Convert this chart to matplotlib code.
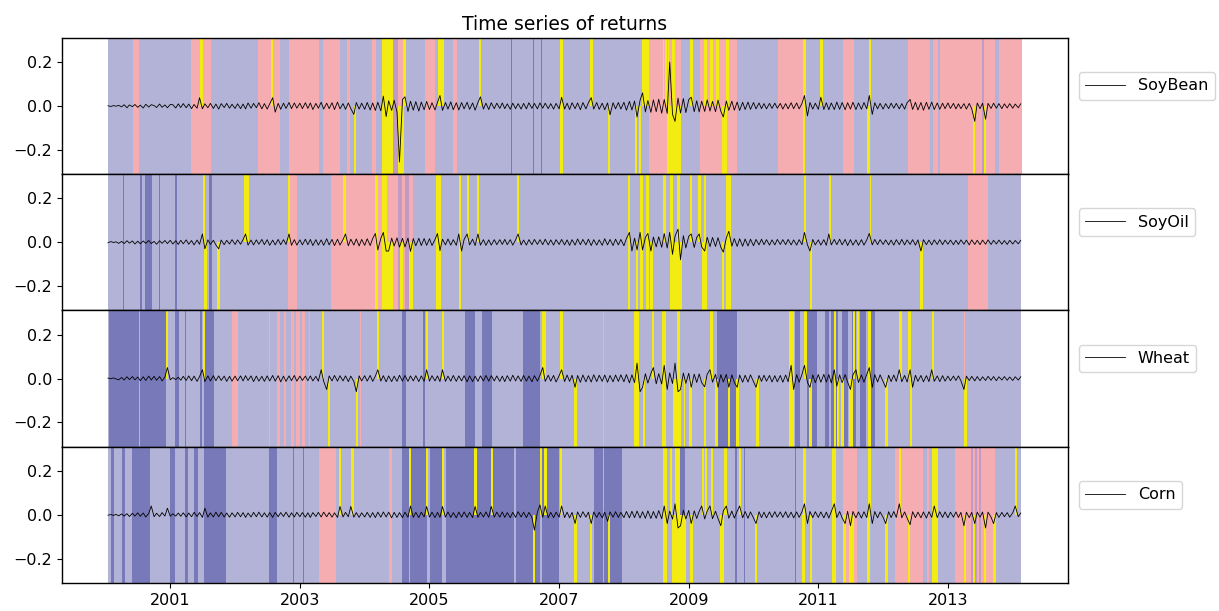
import numpy as np
import pandas as pd
import matplotlib
matplotlib.use("Agg")
import matplotlib.pyplot as plt

plt.rcParams.update({
    "font.family": "DejaVu Sans",
    "axes.linewidth": 1.0,
    "xtick.labelsize": 11.5,
    "ytick.labelsize": 11.5,
})

# ------------------------------------------------------------------
# data: semi-monthly sampled returns (units of 0.001), read off the chart
# ------------------------------------------------------------------
names = ["SoyBean", "SoyOil", "Wheat", "Corn"]
start_date = "2000-01-15"

soybean = [
    1, -2, 2, -1, 3, -4, 6, -8, 5, -3, 7, -6, 4, -9, 8, -5, 6, 2, -7, 9, -6, 5, -8, 7,
    6, -9, 10, -7, 11, -8, 9, -12, 7, -10, 38, -13, 10, -8, 12, -11, 9, -14, 11, -7, 12, -10, 8, -11,
    10, -12, 9, -13, 14, -10, 12, -8, 15, -13, 11, -14, 10, 38, -28, 12, -15, 13, -11, 16, -12, 14, -10, 13,
    -12, 15, -11, 14, -16, 12, -10, 17, -14, 13, -12, 15, -16, 18, -13, 11, -15, 14, -12, -38, 16, -14, 13, -15,
    16, -18, 14, -20, 17, -22, 45, -48, 24, -20, 26, -28, -255, 30, 42, -25, 22, -19, 20, -23, 18, -17, 21, -16,
    15, -18, 17, 48, -20, 16, -14, 19, -17, 15, -18, 16, -13, 17, -15, 14, -19, 16, 42, -14, 13, -16, 15, -12,
    13, -11, 14, -12, 10, -15, 13, -12, 11, -14, 12, -13, 15, -11, 12, -13, 14, -10, 13, -12, 11, -14, 12, -13,
    40, -14, 13, -16, 15, -12, 14, -17, 16, -13, 15, 38, -14, 16, -15, 13, -17, 14, -40, 15, -13, 16, -14, 17,
    -19, 21, -18, 23, -50, 26, 60, -27, 25, -29, 28, -26, 31, -33, 30, -34, 200, -38, -70, 36, -32, 34, -30, 29,
    40, -26, 24, -27, 22, -25, 28, -23, 21, -26, 27, -24, -50, 23, -20, 22, -19, 18, -20, 17, -16, 18, -15, 16,
    -13, 14, -12, 11, -13, 12, -11, 13, -10, 12, -14, 11, -13, 15, -12, 14, -13, 12, 48, -45, 16, -14, 13, -15,
    40, -16, 15, -17, 14, -16, 18, -15, 16, -17, 15, -14, 17, -16, 14, -15, 16, -13, 48, -38, 15, -13, 12, -14,
    11, -12, 13, -10, 12, -13, 11, -14, 15, 30, -16, 17, -18, 16, -19, 17, -15, 18, -16, 14, -15, 13, -12, 14,
    -11, 12, -13, 10, -12, 11, -14, 12, -13, -70, 14, -12, 13, -60, 12, -11, 13, -10, 11, -12, 10, -9, 11, -10,
    9, -8, 10,
]

soyoil = [
    -2, 3, -1, 2, -5, 4, -6, 7, -4, 6, -8, 5, -7, 6, -5, 8, -6, 4, -9, 7, -5, 8, -6, 9,
    -8, 7, -10, 9, -7, 11, -9, 8, -12, 10, -9, 38, -30, 11, -10, 9, -12, -30, 10, -11, 9, -8, 12, -10,
    11, -9, 12, 38, -13, 10, -12, 11, -9, 13, -11, 12, -14, 10, -12, 13, -11, 12, -10, 38, -14, 12, -13, 11,
    -12, 14, -11, 13, -15, 12, -13, 11, -14, 16, -12, 13, -15, 14, -13, 12, 38, -16, 14, -13, 15, -17, 13, -14,
    16, -15, 17, 40, -35, 18, 45, -40, -40, 19, -17, 20, -22, 18, -21, 19, -42, 17, -16, 18, -15, 17, -14, 16,
    -15, 13, 40, -38, 14, -12, 15, -13, 12, -14, 38, -40, 13, 38, -12, 14, -15, 38, -13, 12, -14, 11, -13, 12,
    -11, 12, -10, 13, -11, 12, -13, 11, 38, -12, 10, -13, 12, -11, 13, -10, 12, -11, 14, -12, 11, -13, 12, -10,
    13, -12, 11, -14, 12, -13, 15, -11, 13, -12, 14, -15, 12, -13, 11, -14, 16, -12, 13, -15, 14, -12, 13, -16,
    17, 45, -40, 19, -35, 45, -35, 22, 40, -40, 24, -21, 25, -23, 40, -26, 45, -55, 28, 60, -80, 30, -26, 27,
    38, -24, 22, 38, -21, -40, 23, -20, 22, -19, 21, -23, -45, 20, 50, -18, 17, -19, 16, -18, 15, -17, 14, -16,
    13, -12, 14, -11, 12, -13, 11, -12, 13, -10, 12, -11, 13, -12, 11, -13, 12, -11, 45, -12, -40, 13, -12, 11,
    -13, 12, -14, 38, -12, 13, -11, 14, -12, 13, -15, 12, -13, 11, -14, 12, -13, 11, 40, -12, 13, -11, 12, -10,
    11, -12, 10, -13, 12, -11, 13, -12, 11, -10, 12, -13, 11, -40, 12, -11, 10, -12, 11, -10, 12, -11, 10, -9,
    10, -11, 9, -10, 11, -9, 10, -12, 11, -10, 9, -11, 10, -9, 11, -10, 9, -8, 10, -9, 8, -10, 9, -8,
    8, -7, 9,
]

wheat = [
    2, -1, 3, -2, -6, 5, -7, 8, -5, 9, -6, 7, -10, 8, -9, 11, -7, 10, -8, 9, -11, 7, 50, -6,
    4, -5, 6, -8, 10, -9, 12, -10, 11, -13, 9, 40, -14, 12, -11, 13, -10, 12, -9, 11, -13, 10, -12, 11,
    -10, 12, -11, 13, -9, 12, -14, 11, -12, 10, -13, 12, -11, 14, -12, 13, -15, 11, -13, 12, -10, 14, -12, 11,
    -9, 11, -10, 12, -11, 10, -12, 40, -13, -50, 12, -11, 14, -12, 13, -11, 12, -14, 11, -13, -60, 12, -11, 13,
    -12, 14, -13, 11, 40, -12, 13, -15, 12, -14, 11, -13, 15, -12, 14, -13, 12, -11, 13, -14, 12, -13, 40, -12,
    13, -11, 12, -14, 40, -13, 11, -12, 14, -13, 12, -11, 13, -15, 12, -14, 11, -13, 12, -11, 14, -12, 13, -11,
    12, -13, 11, -14, 13, -12, 15, -11, 12, -13, 14, -12, 11, -15, 13, -12, 14, 50, -13, 15, -12, 14, -16, 13,
    40, -14, 16, -13, 15, -40, 14, -17, 16, -15, 13, -16, 17, -14, 15, -13, 16, -17, 14, -15, 16, -13, 17, -15,
    18, -20, 17, -19, 70, -60, -40, 22, -21, 23, 50, -24, 22, -25, 60, -50, 26, -23, 70, -60, -50, 25, -22, 24,
    -40, 20, -18, 21, -19, -38, 20, 40, -17, 19, -40, 18, -16, 19, -40, 17, -18, -40, 16, -17, 15, -16, 17, -14,
    -40, 14, -13, 15, -12, 14, -16, 13, -15, 14, -17, 16, -15, 60, -50, 18, -17, 19, 60, -18, -40, 17, -19, 18,
    -17, 19, -16, 18, -20, 40, -35, 17, -19, 18, -16, -50, 17, 40, -18, 16, -17, 19, 50, -40, 18, -16, 17, -15,
    -40, 15, -14, 16, -13, 40, -15, 14, -16, 40, -40, 15, -13, 14, -15, 13, -14, 40, -13, 12, -14, 13, -12, 11,
    -10, 11, -9, 12, -10, -50, 11, -9, 10, -11, 9, -10, 8, -9, 10, -8, 9, -10, 8, -7, 9, -8, 7, -9,
    8, -7, 8,
]

corn = [
    -2, 1, -3, 2, -5, 4, -6, 5, -8, 7, -6, 9, -7, 8, -10, 6, 40, -9, 7, -8, 10, -6, 30, -7,
    5, -6, 8, -7, 9, -10, 8, -9, 11, -8, 10, -12, 30, -11, 9, -10, 12, -9, 11, -10, 8, -11, 9, -10,
    11, -9, 10, -12, 8, -10, 11, -9, 12, -10, 9, -11, 10, -12, 11, -9, 10, -8, 12, -11, 9, -10, 11, -9,
    10, -11, 9, -12, 10, -8, 11, -10, 12, -9, 10, -11, 9, -12, 38, -10, 11, -9, 38, -11, 10, -12, 9, -10,
    11, -12, 10, -13, 12, -11, 13, -10, 12, -14, 11, -12, 10, -13, 12, -11, 40, -12, 11, -13, 12, -10, 38, -11,
    12, -13, 11, -12, 38, -11, 13, -12, 10, -14, 12, -11, 13, -12, 11, -13, 38, -12, 11, -10, 13, -12, 38, -11,
    12, -11, 13, -12, 10, -13, 11, -12, 14, -10, 12, -13, 11, -12, -70, 13, 45, -12, 40, -14, 11, -13, 12, -11,
    40, -13, 12, -14, 11, -40, 13, -12, 14, -11, 12, -40, 13, -12, 11, -14, 12, -30, 13, -11, 14, -12, 11, -13,
    15, -14, 16, -13, 17, -15, 14, -16, 18, -17, 15, -16, 19, -18, 40, -40, 17, -20, 50, -60, -50, 21, -19, 20,
    -40, 18, -17, 16, 40, -19, 17, 40, -18, 16, -17, -50, 18, 40, -16, 17, -15, 16, 40, -14, 15, -16, 13, -15,
    -40, 14, -13, 12, -14, 13, -12, 14, -11, 13, -12, 14, -13, 12, -14, 13, -12, 14, 50, -40, 15, -13, 14, -12,
    13, -14, 12, -15, 14, 50, -13, 15, -14, -40, 16, -50, 15, -14, 13, -15, 14, -13, 50, -40, 15, -14, 13, -12,
    -40, 14, -13, 15, -12, 50, -14, 13, -15, -45, 14, -13, 12, -14, 13, -15, 14, -12, 40, -13, 14, -12, 13, -14,
    12, -11, 13, -12, 11, -50, 12, -13, 11, -40, 12, -11, 13, -60, 12, -11, -40, 10, -12, 11, -9, 10, -11, 9,
    40, -9, 8,
]

# regime spans in decimal years
pink_spans = {
    "SoyBean": [(2000.43, 2000.52), (2001.32, 2001.63), (2002.36, 2002.69), (2002.83, 2003.29),
                (2003.36, 2003.62), (2003.73, 2003.78), (2004.12, 2004.18), (2004.44, 2004.60),
                (2004.93, 2005.09), (2005.37, 2005.42), (2008.38, 2008.88), (2009.18, 2009.74),
                (2010.38, 2010.77), (2011.38, 2011.55), (2012.39, 2012.72), (2012.77, 2012.85),
                (2012.88, 2013.72), (2013.79, 2014.15)],
    "SoyOil": [(2002.82, 2002.95), (2003.48, 2004.74), (2013.31, 2013.62)],
    "Wheat": [(2001.95, 2002.04), (2002.52, 2002.54), (2002.65, 2002.69), (2002.75, 2002.79),
              (2002.87, 2002.91), (2002.94, 2003.00), (2003.04, 2003.08), (2003.14, 2003.16),
              (2003.93, 2003.95), (2007.68, 2007.69), (2013.24, 2013.26)],
    "Corn": [(2003.30, 2003.55), (2004.37, 2004.42), (2011.38, 2011.59), (2012.18, 2012.62),
             (2012.67, 2012.70), (2013.11, 2013.73)],
}

dark_spans = {
    "SoyBean": [(2006.26, 2006.28), (2006.59, 2006.61), (2006.72, 2006.74)],
    "SoyOil": [(2000.27, 2000.29), (2000.53, 2000.56), (2000.61, 2000.72), (2000.82, 2000.84),
               (2001.08, 2001.10), (2001.59, 2001.64)],
    "Wheat": [(2000.05, 2000.51), (2000.54, 2000.94), (2001.08, 2001.13), (2001.23, 2001.25),
              (2001.46, 2001.49), (2001.52, 2001.67), (2004.58, 2004.64), (2004.90, 2004.93),
              (2005.55, 2005.70), (2005.81, 2005.96), (2006.45, 2006.71), (2009.43, 2009.74),
              (2010.64, 2010.71), (2010.82, 2010.98), (2011.10, 2011.16), (2011.20, 2011.30),
              (2011.36, 2011.45), (2011.52, 2011.58), (2011.64, 2011.74), (2011.80, 2011.87)],
    "Corn": [(2000.08, 2000.13), (2000.25, 2000.30), (2000.41, 2000.69), (2001.00, 2001.08),
             (2001.23, 2001.28), (2001.36, 2001.43), (2001.52, 2001.86), (2002.52, 2002.65),
             (2002.90, 2002.91), (2003.05, 2003.06), (2004.57, 2004.68), (2004.70, 2004.96),
             (2005.01, 2005.19), (2005.25, 2006.30), (2006.34, 2006.71), (2006.73, 2007.00),
             (2007.54, 2007.67), (2007.70, 2007.97), (2008.87, 2008.94), (2009.71, 2009.74),
             (2009.86, 2009.87), (2010.59, 2010.60), (2010.64, 2010.65)],
}

mix_spans = {
    "SoyBean": [(2004.44, 2004.52), (2013.52, 2013.56)],
    "SoyOil": [(2004.52, 2004.58), (2004.62, 2004.68)],
    "Wheat": [],
    "Corn": [(2013.35, 2013.38), (2013.41, 2013.45), (2013.48, 2013.51)],
}

# yellow spans: (start, end, part) with part u = above zero, d = below, b = both
yellow_spans = {
    "SoyBean": [(2001.46, 2001.50, "u"), (2002.56, 2002.59, "u"), (2003.83, 2003.86, "d"),
                (2004.26, 2004.44, "b"), (2004.52, 2004.60, "d"), (2004.59, 2004.64, "u"),
                (2005.13, 2005.22, "u"), (2005.77, 2005.80, "u"), (2007.02, 2007.06, "b"),
                (2007.48, 2007.53, "u"), (2007.75, 2007.79, "d"), (2008.17, 2008.20, "d"),
                (2008.23, 2008.26, "d"), (2008.28, 2008.38, "u"), (2008.60, 2008.62, "u"),
                (2008.64, 2008.66, "u"), (2008.68, 2008.70, "u"), (2008.74, 2008.79, "u"),
                (2008.66, 2008.88, "d"), (2009.02, 2009.06, "u"), (2009.24, 2009.28, "u"),
                (2009.33, 2009.37, "u"), (2009.42, 2009.46, "u"), (2009.57, 2009.62, "u"),
                (2009.52, 2009.59, "d"), (2010.77, 2010.81, "u"), (2010.76, 2010.80, "d"),
                (2011.03, 2011.07, "u"), (2011.78, 2011.82, "u"), (2011.75, 2011.79, "d"),
                (2013.38, 2013.42, "d"), (2013.55, 2013.59, "d")],
    "SoyOil": [(2001.50, 2001.54, "u"), (2001.52, 2001.57, "d"), (2001.72, 2001.76, "d"),
               (2002.14, 2002.22, "u"), (2002.81, 2002.84, "u"), (2003.67, 2003.71, "u"),
               (2004.16, 2004.20, "b"), (2004.27, 2004.34, "b"), (2004.34, 2004.43, "d"),
               (2004.55, 2004.59, "d"), (2004.69, 2004.74, "d"), (2005.10, 2005.17, "b"),
               (2005.45, 2005.49, "b"), (2005.58, 2005.61, "u"), (2005.74, 2005.77, "u"),
               (2006.35, 2006.38, "u"), (2008.06, 2008.10, "b"), (2008.19, 2008.22, "d"),
               (2008.25, 2008.30, "b"), (2008.34, 2008.38, "b"), (2008.40, 2008.45, "d"),
               (2008.61, 2008.65, "u"), (2008.71, 2008.76, "b"), (2008.82, 2008.86, "u"),
               (2008.76, 2008.89, "d"), (2009.02, 2009.05, "u"), (2009.15, 2009.19, "u"),
               (2009.20, 2009.28, "d"), (2009.23, 2009.27, "u"), (2009.51, 2009.55, "d"),
               (2009.58, 2009.65, "b"), (2010.78, 2010.81, "u"), (2010.87, 2010.90, "d"),
               (2011.16, 2011.19, "u"), (2011.79, 2011.82, "u"), (2012.57, 2012.61, "d")],
    "Wheat": [(2000.93, 2000.96, "u"), (2001.50, 2001.54, "u"), (2003.34, 2003.37, "u"),
              (2003.43, 2003.46, "d"), (2003.87, 2003.90, "d"), (2004.19, 2004.22, "u"),
              (2004.94, 2004.97, "u"), (2005.19, 2005.22, "u"), (2006.73, 2006.80, "u"),
              (2007.02, 2007.06, "u"), (2007.23, 2007.27, "d"), (2008.15, 2008.24, "b"),
              (2008.29, 2008.32, "d"), (2008.43, 2008.47, "u"), (2008.59, 2008.65, "b"),
              (2008.75, 2008.88, "d"), (2008.82, 2008.86, "u"), (2008.93, 2008.95, "d"),
              (2009.01, 2009.05, "d"), (2009.23, 2009.26, "d"), (2009.33, 2009.37, "u"),
              (2009.41, 2009.45, "d"), (2009.60, 2009.63, "d"), (2009.73, 2009.77, "d"),
              (2010.04, 2010.08, "d"), (2010.54, 2010.63, "b"), (2010.78, 2010.82, "u"),
              (2010.86, 2010.90, "d"), (2011.24, 2011.28, "b"), (2011.29, 2011.32, "d"),
              (2011.35, 2011.39, "d"), (2011.48, 2011.54, "d"), (2011.54, 2011.57, "u"),
              (2011.59, 2011.62, "u"), (2011.76, 2011.82, "b"), (2012.03, 2012.07, "d"),
              (2012.25, 2012.29, "u"), (2012.39, 2012.43, "u"), (2012.41, 2012.45, "d"),
              (2012.75, 2012.79, "u"), (2013.24, 2013.29, "d")],
    "Corn": [(2003.60, 2003.63, "u"), (2003.79, 2003.83, "u"), (2004.69, 2004.72, "u"),
             (2004.94, 2004.97, "u"), (2005.19, 2005.22, "u"), (2005.69, 2005.73, "u"),
             (2005.95, 2005.98, "u"), (2006.59, 2006.63, "d"), (2006.70, 2006.73, "u"),
             (2006.77, 2006.81, "u"), (2007.02, 2007.05, "u"), (2007.23, 2007.27, "d"),
             (2007.47, 2007.50, "d"), (2007.75, 2007.79, "d"), (2008.61, 2008.66, "b"),
             (2008.71, 2008.74, "u"), (2008.74, 2008.88, "d"), (2008.79, 2008.86, "u"),
             (2008.88, 2008.96, "d"), (2009.02, 2009.06, "d"), (2009.20, 2009.24, "u"),
             (2009.25, 2009.28, "u"), (2009.34, 2009.37, "u"), (2009.48, 2009.54, "d"),
             (2009.55, 2009.59, "u"), (2009.77, 2009.81, "u"), (2010.02, 2010.06, "d"),
             (2010.77, 2010.81, "u"), (2010.75, 2010.79, "d"), (2010.87, 2010.90, "d"),
             (2011.21, 2011.28, "b"), (2011.38, 2011.42, "d"), (2011.48, 2011.55, "d"),
             (2011.77, 2011.81, "u"), (2011.75, 2011.79, "d"), (2012.03, 2012.07, "d"),
             (2012.24, 2012.28, "u"), (2012.39, 2012.42, "d"), (2012.75, 2012.84, "b"),
             (2013.24, 2013.28, "d"), (2013.39, 2013.42, "d"), (2013.55, 2013.58, "d"),
             (2013.70, 2013.74, "d"), (2014.03, 2014.07, "u")],
}

tick_years = [2001, 2003, 2005, 2007, 2009, 2011, 2013]

# ------------------------------------------------------------------
# colours
# ------------------------------------------------------------------
BASE = "#b3b3d7"
DARK = "#7879b9"
PINK = "#f6adb2"
MIX = "#c29ac6"
YELLOW = "#f2ec12"
PART = {"u": (0.5, 1.0), "d": (0.0, 0.5), "b": (0.0, 1.0)}


def to_years(n):
    d = pd.date_range(start_date, periods=n, freq="SMS")
    return d.year + (d.dayofyear - 1) / 365.25


series = {"SoyBean": soybean, "SoyOil": soyoil, "Wheat": wheat, "Corn": corn}

fig, axes = plt.subplots(4, 1, figsize=(12.19, 6.11), dpi=100, sharex=True)
fig.subplots_adjust(left=0.0509, right=0.876, top=0.938, bottom=0.046, hspace=0)

for ax, name in zip(axes, names):
    vals = np.array(series[name]) / 1000.0
    t = to_years(len(vals))

    ax.axvspan(t[0], t[-1], color=BASE, lw=0)
    for a, b in dark_spans[name]:
        ax.axvspan(a, b, color=DARK, lw=0)
    for a, b in pink_spans[name]:
        ax.axvspan(a, b, color=PINK, lw=0)
    for a, b in mix_spans[name]:
        ax.axvspan(a, b, color=MIX, lw=0)
    for a, b, part in yellow_spans[name]:
        lo, hi = PART[part]
        ax.axvspan(a, b, ymin=lo, ymax=hi, color=YELLOW, lw=0)

    ax.plot(t, vals, color="black", lw=0.6, label=name)

    ax.set_ylim(-0.31, 0.31)
    ax.set_yticks([-0.2, 0.0, 0.2])
    ax.legend(loc="center left", bbox_to_anchor=(1.003, 0.647),
              fontsize=11.5, handlelength=2.5)

axes[-1].set_xlim(1999.33, 2014.85)
axes[-1].set_xticks(tick_years)
axes[-1].set_xticklabels([str(y) for y in tick_years])
axes[0].set_title("Time series of returns", fontsize=13.5)

fig.savefig("out.png", dpi=100)
